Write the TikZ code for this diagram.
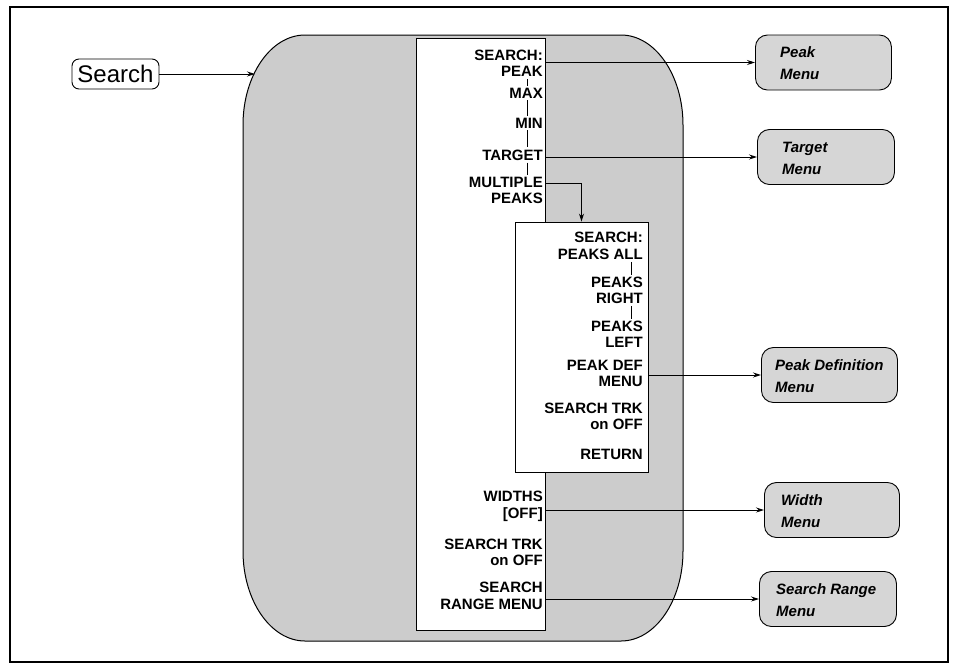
\documentclass[tikz,border=0pt]{standalone}
\usepackage{fontspec}
\setmainfont{Liberation Sans}
\usetikzlibrary{arrows.meta}
\begin{document}
\begin{tikzpicture}[x=1pt,y=-1pt,
  item/.style={font=\fontsize{15}{16.5}\selectfont\bfseries, align=right, anchor=east, inner sep=0pt},
  panel/.style={draw, fill=white, line width=0.9pt, inner sep=0pt},
  menubox/.style={draw, fill=black!16, rounded corners=12pt, line width=0.9pt, minimum height=55pt, anchor=west, inner sep=0pt},
  menutext/.style={font=\fontsize{15}{22}\selectfont\bfseries\itshape, align=left, anchor=west, inner sep=0pt},
  arr/.style={-{Stealth[length=8pt,width=5pt]}, line width=0.9pt},
  tickline/.style={line width=0.6pt, shorten >=2pt, shorten <=2pt}]
\useasboundingbox (0,0) rectangle (953,665);
\draw[line width=1.6pt] (10,7) rectangle (948,662);
% big shaded region
\draw[line width=1pt, fill=black!20] (305,35) -- (621,35)
  .. controls (655.2,35) and (683,75.3) .. (683,125) -- (683,551)
  .. controls (683,600.7) and (655.2,641) .. (621,641) -- (305,641)
  .. controls (270.8,641) and (243,600.7) .. (243,551) -- (243,125)
  .. controls (243,75.3) and (270.8,35) .. (305,35) -- cycle;
\coordinate (regionentry) at (255,74);
% Search key
\node[draw, rounded corners=7pt, line width=0.9pt, minimum width=87pt, minimum height=30pt, inner sep=0pt,
  font=\fontsize{24}{26}\selectfont] (search) at (115.5,74) {Search};
\draw[arr] (search.east) -- (regionentry);
% panels
\node[panel, minimum width=129pt, minimum height=592pt] (mainpanel) at (480.5,334) {};
\node[panel, minimum width=133pt, minimum height=250pt] (subpanel) at (581.5,347) {};
% main items
\node[item] (i1) at (543,63.5) {SEARCH:\\PEAK};
\node[item] (i2) at (543,93) {MAX};
\node[item] (i3) at (543,123) {MIN};
\node[item] (i4) at (543,155) {TARGET};
\node[item] (i5) at (543,190.5) {MULTIPLE\\PEAKS};
\draw[tickline] (527,0 |- i1.south) -- (527,0 |- i2.north);
\draw[tickline] (527,0 |- i2.south) -- (527,0 |- i3.north);
\draw[tickline] (527,0 |- i3.south) -- (527,0 |- i4.north);
\draw[tickline] (527,0 |- i4.south) -- (527,0 |- i5.north);
% sub items
\node[item] (s1) at (643,246) {SEARCH:\\PEAKS ALL};
\node[item] (s2) at (643,290.5) {PEAKS\\RIGHT};
\node[item] (s3) at (643,334.5) {PEAKS\\LEFT};
\node[item] (s4) at (643,373.5) {PEAK DEF\\MENU};
\node[item] (s5) at (643,416.5) {SEARCH TRK\\on OFF};
\node[item] (s6) at (643,454) {RETURN};
\draw[tickline] (631,0 |- s1.south) -- (631,0 |- s2.north);
\draw[tickline] (631,0 |- s2.south) -- (631,0 |- s3.north);
% lower main items
\node[item] (w1) at (543,506.5) {WIDTHS\\{[OFF]}};
\node[item] (w2) at (543,552.5) {SEARCH TRK\\on OFF};
\node[item] (w3) at (543,596) {SEARCH\\RANGE MENU};
% right menus
\node[menubox, minimum width=136pt] (peakmenu) at (755,62.5) {};
\node[menubox, minimum width=137pt] (targetmenu) at (757,157) {};
\node[menubox, minimum width=136pt] (pdefmenu) at (761,375) {};
\node[menubox, minimum width=135pt] (widthmenu) at (764,510) {};
\node[menubox, minimum width=137pt] (srangemenu) at (759,599) {};
\node[menutext] (peaktxt) at (780,63) {Peak\\Menu};
\node[menutext] (targettxt) at (782,158) {Target\\Menu};
\node[menutext] (pdeftxt) at (775,376) {Peak Definition\\Menu};
\node[menutext] (widthtxt) at (781,511) {Width\\Menu};
\node[menutext] (srangetxt) at (776,600) {Search Range\\Menu};
% connectors
\draw[arr] (mainpanel.east |- peakmenu.west) -- (peakmenu.west);
\draw[arr] (mainpanel.east |- targetmenu.west) -- (targetmenu.west);
\coordinate (mpout) at (545,183);
\draw[arr] (mpout) -| (subpanel.north);
\draw[arr] (subpanel.east |- pdefmenu.west) -- (pdefmenu.west);
\draw[arr] (mainpanel.east |- widthmenu.west) -- (widthmenu.west);
\draw[arr] (mainpanel.east |- srangemenu.west) -- (srangemenu.west);
\end{tikzpicture}
\end{document}
